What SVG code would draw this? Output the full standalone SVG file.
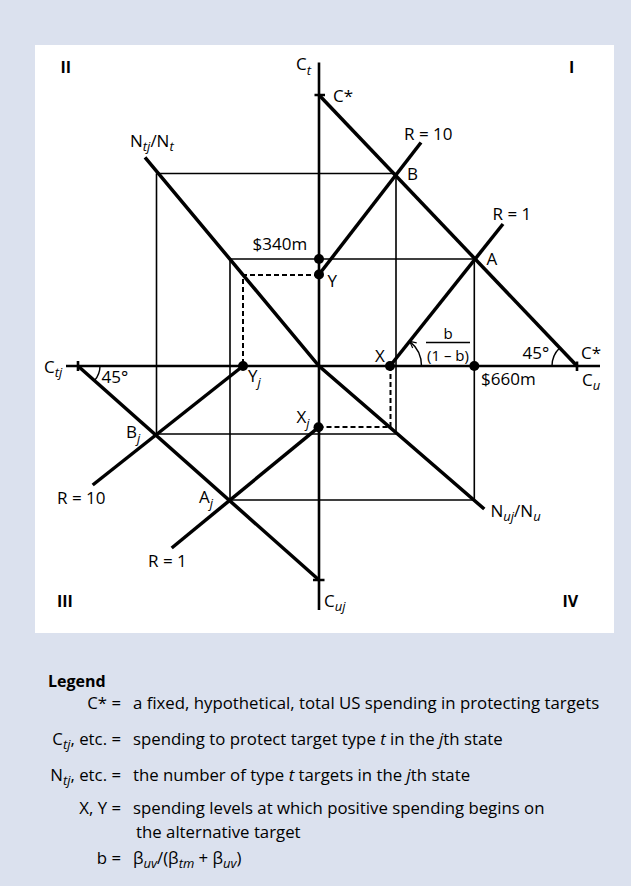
<svg xmlns="http://www.w3.org/2000/svg" width="631" height="886" viewBox="0 0 631 886">
<style>
text{font-family:"Open Sans","Noto Sans",sans-serif;font-size:17px;fill:#000}
.q{font-weight:bold;font-size:16px}
.s{font-style:italic;font-size:13px}
.fr{font-size:15px}
.lg{font-size:16.8px}
.ax{stroke:#000;stroke-width:2.6;fill:none}
.th{stroke:#000;stroke-width:3.5;fill:none}
.tn{stroke:#000;stroke-width:1.6;fill:none}
.da{stroke:#000;stroke-width:2;stroke-dasharray:5 3;fill:none}
.arc{stroke:#000;stroke-width:1.4;fill:none}
.dot{fill:#000}
</style>
<defs>
<marker id="ah" viewBox="0 0 10 10" refX="9" refY="5" markerWidth="8" markerHeight="8" markerUnits="userSpaceOnUse" orient="auto">
<path d="M1,1 L9,5 L1,9" fill="none" stroke="#000" stroke-width="1.5"/>
</marker>
</defs>
<rect width="631" height="886" fill="#dbe1ee"/>
<rect x="35" y="45" width="579" height="588" fill="#fff"/>

<g id="connectors">
<path class="tn" d="M156.5,173.5 H396 M156.5,173.5 V434 H396 V174"/>
<path class="tn" d="M230,259 H474.3 M230,259 V500 H474.3 V259"/>
<path class="ax" d="M319,62.5 V610 M66,366 H600"/>
<path class="ax" d="M314.5,95 H325 M313,580 H324.5 M78,361 V371 M577,361.5 V371"/>
<path class="th" d="M319,95 L577,366"/>
<path class="th" d="M78,366 L319,580"/>
<path class="th" d="M145,157.3 L319,366 L484.3,509"/>
<path class="th" d="M319,274.5 L421,142.5"/>
<path class="th" d="M390,366 L503,224"/>
<path class="th" d="M243,366 L92.7,485"/>
<path class="th" d="M318.5,427.3 L171.7,548"/>
<path class="da" d="M319,275 H243 V366"/>
<path class="da" d="M390.5,366 V427 H318.5"/>
<path class="arc" d="M421.5,366 A31.5,31.5 0 0 0 409.7,341.4" marker-end="url(#ah)"/>
<path class="arc" d="M552,366 A25,25 0 0 1 559.6,348"/>
<path class="arc" d="M100,366 A22,22 0 0 1 94.6,380.4"/>
<path class="tn" d="M426,342.5 H470" stroke-width="1.3"/>
</g>

<g id="points">
<circle class="dot" cx="319" cy="259" r="5"/>
<circle class="dot" cx="319" cy="274.5" r="5"/>
<circle class="dot" cx="390" cy="366" r="5"/>
<circle class="dot" cx="474.3" cy="366" r="5"/>
<circle class="dot" cx="243" cy="366" r="5"/>
<circle class="dot" cx="318.5" cy="427.3" r="5"/>
</g>

<g id="quadrants">
<text class="q" x="60.5" y="73.3">II</text>
<text class="q" x="569" y="73.3">I</text>
<text class="q" x="57" y="607.3">III</text>
<text class="q" x="562.5" y="607.3">IV</text>
</g>

<g id="labels">
<text x="296" y="70">C<tspan class="s" dy="5">t</tspan></text>
<text x="333" y="101.7">C*</text>
<text x="130" y="147.3">N<tspan class="s" dy="4">tj</tspan><tspan dy="-4">/N</tspan><tspan class="s" dy="4">t</tspan></text>
<text x="404" y="140">R = 10</text>
<text x="407" y="180">B</text>
<text x="492.5" y="220">R = 1</text>
<text x="486.5" y="265">A</text>
<text x="252.5" y="249.5">$340m</text>
<text x="327.5" y="287">Y</text>
<text x="375" y="361.7">X</text>
<text class="fr" x="448" y="338.5" text-anchor="middle">b</text>
<text class="fr" x="448" y="360.5" text-anchor="middle">(1 – b)</text>
<text x="522.5" y="359">45°</text>
<text x="581" y="359">C*</text>
<text x="481" y="385">$660m</text>
<text x="582" y="386">C<tspan class="s" dy="4">u</tspan></text>
<text x="44" y="372.7">C<tspan class="s" dy="4">tj</tspan></text>
<text x="101.5" y="383.3">45°</text>
<text x="248" y="381.7">Y<tspan class="s" dy="5">j</tspan></text>
<text x="126" y="438.3">B<tspan class="s" dy="5">j</tspan></text>
<text x="296.5" y="422.7">X<tspan class="s" dy="5">j</tspan></text>
<text x="57" y="504.3">R = 10</text>
<text x="199" y="502.7">A<tspan class="s" dy="5">j</tspan></text>
<text x="148" y="566.7">R = 1</text>
<text x="490.5" y="517.3">N<tspan class="s" dy="4">uj</tspan><tspan dy="-4">/N</tspan><tspan class="s" dy="4">u</tspan></text>
<text x="324" y="606.7">C<tspan class="s" dy="4">uj</tspan></text>
</g>

<g id="legend">
<text class="q" x="48" y="687">Legend</text>
<text class="lg" x="121" y="709" text-anchor="end">C* =</text>
<text class="lg" x="133" y="709">a fixed, hypothetical, total US spending in protecting targets</text>
<text class="lg" x="121" y="745" text-anchor="end">C<tspan class="s" dy="4">tj</tspan><tspan dy="-4">, etc. =</tspan></text>
<text class="lg" x="133" y="745">spending to protect target type <tspan font-style="italic">t</tspan> in the <tspan font-style="italic">j</tspan>th state</text>
<text class="lg" x="121" y="781" text-anchor="end">N<tspan class="s" dy="4">tj</tspan><tspan dy="-4">, etc. =</tspan></text>
<text class="lg" x="133" y="781">the number of type <tspan font-style="italic">t</tspan> targets in the <tspan font-style="italic">j</tspan>th state</text>
<text class="lg" x="121" y="814" text-anchor="end">X, Y =</text>
<text class="lg" x="133" y="814">spending levels at which positive spending begins on</text>
<text class="lg" x="136" y="838">the alternative target</text>
<text class="lg" x="121" y="864" text-anchor="end">b =</text>
<text class="lg" x="133" y="864">β<tspan class="s" dy="4">uv</tspan><tspan dy="-4">/(β</tspan><tspan class="s" dy="4">tm</tspan><tspan dy="-4"> + β</tspan><tspan class="s" dy="4">uv</tspan><tspan dy="-4">)</tspan></text>
</g>
</svg>
